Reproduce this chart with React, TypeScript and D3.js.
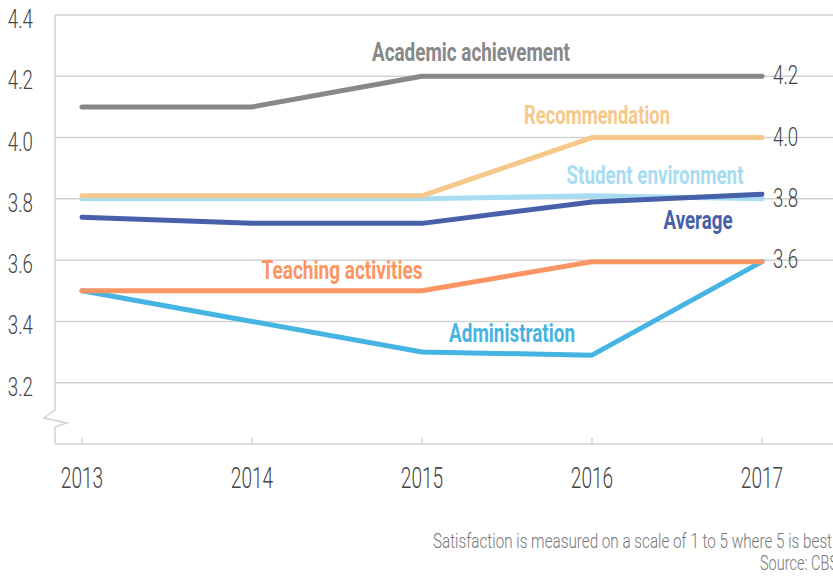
import React from "react";
import * as d3 from "d3";

// values
const years = ["2013", "2014", "2015", "2016", "2017"];
const academic = [4.1, 4.1, 4.2, 4.2, 4.2];
const recommendation = [3.81, 3.81, 3.81, 4.0, 4.0];
const studentEnv = [3.8, 3.8, 3.8, 3.81, 3.8];
const average = [3.74, 3.72, 3.72, 3.79, 3.815];
const teaching = [3.5, 3.5, 3.5, 3.595, 3.595];
const administration = [3.5, 3.4, 3.3, 3.29, 3.595];
const yTicks = [3.2, 3.4, 3.6, 3.8, 4.0, 4.2, 4.4];
const endLabels = [4.2, 4.0, 3.8, 3.6];

const W = 833;
const H = 576;
const left = 55;
const top = 15;
const bottom = 444;

const num = "Roboto, 'DejaVu Sans', sans-serif";

export default function App() {
  const x = d3.scalePoint<string>().domain(years).range([82, 762]);
  const y = d3.scaleLinear().domain([3.0, 4.4]).range([bottom, top]);
  const line = d3
    .line<number>()
    .x((d, i) => x(years[i]) as number)
    .y((d) => y(d));

  // drawn bottom to top like the original
  const series = [
    { name: "Administration", values: administration, color: "#46b4e3", lx: 512, ly: 342, w: 126 },
    { name: "Teaching activities", values: teaching, color: "#fb9563", lx: 342, ly: 279, w: 161 },
    { name: "Student environment", values: studentEnv, color: "#a7dcf2", lx: 655, ly: 184, w: 177 },
    { name: "Recommendation", values: recommendation, color: "#f7c88c", lx: 597, ly: 124, w: 146 },
    { name: "Average", values: average, color: "#4760a9", lx: 698, ly: 229, w: 69 },
    { name: "Academic achievement", values: academic, color: "#888888", lx: 471, ly: 61, w: 198 },
  ];

  const grid = "#d2d2d2";

  return (
    <svg width={W} height={H} style={{ position: "absolute", left: 0, top: 0 }}>
      {/* grid */}
      {yTicks.map((t) => (
        <line key={t} x1={left} x2={W} y1={y(t)} y2={y(t)} stroke={grid} strokeWidth={1.5} />
      ))}
      <line x1={left} x2={W} y1={bottom} y2={bottom} stroke={grid} strokeWidth={1.5} />
      <polyline
        points={`${left},${top} ${left},410 44,418 67,423 ${left},427 ${left},${bottom}`}
        fill="none"
        stroke={grid}
        strokeWidth={1.5}
      />
      {years.map((yr) => (
        <line key={yr} x1={x(yr)} x2={x(yr)} y1={bottom} y2={bottom - 6} stroke={grid} strokeWidth={1.5} />
      ))}

      {/* y tick labels */}
      {yTicks.map((t) => (
        <text
          key={t}
          transform={`translate(33,${y(t) + 13}) scale(0.72,1)`}
          textAnchor="end"
          fontFamily={num}
          fontWeight={300}
          fontSize={26}
          fill="#444"
        >
          {d3.format(".1f")(t)}
        </text>
      ))}

      {/* x labels */}
      {years.map((yr) => (
        <text
          key={yr}
          transform={`translate(${x(yr)},488) scale(0.66,1)`}
          textAnchor="middle"
          fontFamily={num}
          fontWeight={300}
          fontSize={29}
          fill="#444"
        >
          {yr}
        </text>
      ))}

      {/* lines */}
      {series.map((s) => (
        <path
          key={s.name}
          d={line(s.values) as string}
          fill="none"
          stroke={s.color}
          strokeWidth={5}
          strokeLinecap="round"
          strokeLinejoin="round"
        />
      ))}

      {/* series labels */}
      {series.map((s) => (
        <text
          key={s.name + "l"}
          x={s.lx}
          y={s.ly}
          textAnchor="middle"
          fontFamily={num}
          fontWeight={700}
          fontSize={25}
          fill={s.color}
          textLength={s.w}
          lengthAdjust="spacingAndGlyphs"
        >
          {s.name}
        </text>
      ))}

      {/* end labels */}
      {endLabels.map((t) => (
        <text
          key={t}
          transform={`translate(773,${y(t) + 8}) scale(0.72,1)`}
          fontFamily={num}
          fontWeight={300}
          fontSize={26}
          fill="#444"
        >
          {d3.format(".1f")(t)}
        </text>
      ))}

      {/* footnote */}
      <text
        x={433}
        y={548}
        fontFamily={num}
        fontWeight={300}
        fontSize={21}
        fill="#777"
        textLength={399}
        lengthAdjust="spacingAndGlyphs"
      >
        Satisfaction is measured on a scale of 1 to 5 where 5 is best
      </text>
      <text
        x={760}
        y={570}
        fontFamily={num}
        fontWeight={300}
        fontSize={21}
        fill="#777"
        textLength={78}
        lengthAdjust="spacingAndGlyphs"
      >
        Source: CBS
      </text>
    </svg>
  );
}
